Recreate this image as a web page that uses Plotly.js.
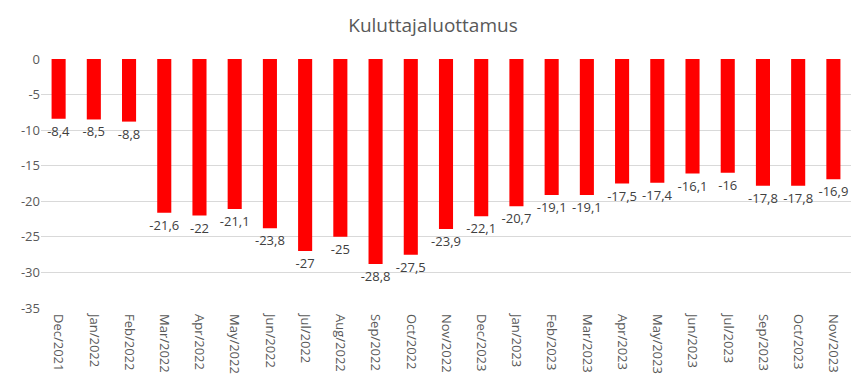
<!DOCTYPE html>
<html>
<head>
<meta charset="utf-8">
<script src="https://cdn.plot.ly/plotly-3.0.1.min.js"></script>
<style>html,body{margin:0;padding:0;background:#fff;}#chart{width:866px;height:390px;}</style>
</head>
<body>
<div id="chart"></div>
<script>
const categories = ["Dec/2021","Jan/2022","Feb/2022","Mar/2022","Apr/2022","May/2022","Jun/2022","Jul/2022","Aug/2022","Sep/2022","Oct/2022","Nov/2022","Dec/2023","Jan/2023","Feb/2023","Mar/2023","Apr/2023","May/2023","Jun/2023","Jul/2023","Sep/2023","Oct/2023","Nov/2023"];
const values = [-8.4,-8.5,-8.8,-21.6,-22,-21.1,-23.8,-27,-25,-28.8,-27.5,-23.9,-22.1,-20.7,-19.1,-19.1,-17.5,-17.4,-16.1,-16,-17.8,-17.8,-16.9];
const yTicks = [0,-5,-10,-15,-20,-25,-30,-35];
const labels = values.map(v => String(v).replace('.', ','));
const font = "Open Sans, Liberation Sans, sans-serif";
Plotly.newPlot('chart', [{
  type: 'bar',
  x: categories,
  y: values,
  marker: {color: '#ff0000'},
  text: labels,
  textposition: 'outside',
  constraintext: 'none',
  textfont: {family: font, size: 13, color: '#404040'},
  cliponaxis: false,
  hoverinfo: 'none'
}], {
  width: 866, height: 390,
  margin: {l: 41, r: 15, t: 59, b: 82},
  paper_bgcolor: '#fff', plot_bgcolor: '#fff',
  bargap: 0.6,
  showlegend: false,
  title: {text: 'Kuluttajaluottamus', font: {family: font, size: 19, color: '#595959'}, x: 0.5, xanchor: 'center', y: 0.935, yanchor: 'middle'},
  xaxis: {
    type: 'category',
    tickangle: 90,
    tickfont: {family: font, size: 13, color: '#595959'},
    ticklabelstandoff: 5,
    showgrid: false, zeroline: false, showline: false, ticks: ''
  },
  yaxis: {
    range: [-35, 0],
    tickvals: yTicks,
    ticktext: yTicks.map(String),
    tickfont: {family: font, size: 13, color: '#595959'},
    gridcolor: '#d9d9d9', gridwidth: 1,
    zeroline: false, showline: false, ticks: '', ticklen: 0
  }
}, {displayModeBar: false, staticPlot: true});
</script>
</body>
</html>
